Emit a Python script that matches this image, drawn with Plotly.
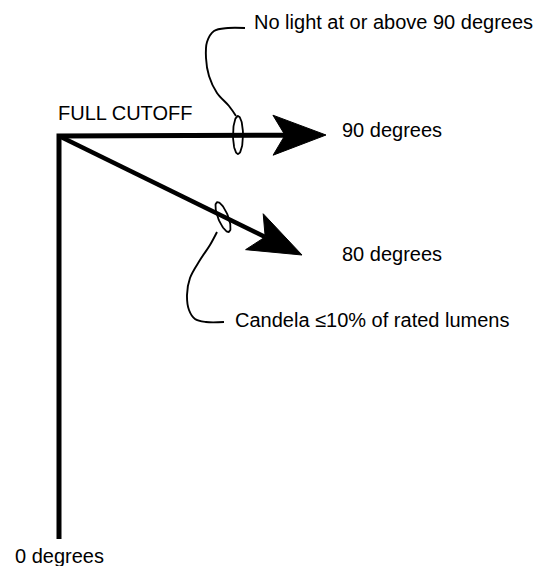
import numpy as np
import plotly.graph_objects as go

# ---- diagram content ----
ray_labels = ["90 degrees", "80 degrees"]
ray_angles = [90, 80]
base_label = "0 degrees"
title_label = "FULL CUTOFF"
callout_labels = ["No light at or above 90 degrees", "Candela \u226410% of rated lumens"]

# geometry (pixel-like diagram coordinates, y grows downward)
origin = (59, 136)
ray_tips = [(326, 135), (302, 255)]
base_end = (59, 539)
label_pos = [(340, 130), (340, 254)]
title_pos = (56, 113)
base_label_pos = (13, 556)
callout_pos = [(252, 22), (233, 320)]
ellipse_geo = [(238, 135, 5, 19, 0), (223, 217, 5, 16, 22)]
leader_pts = [
    [(245, 28), (228, 28), (214, 31), (207, 42), (206, 58), (209, 76), (217, 93), (229, 106), (236, 116)],
    [(217, 232), (210, 245), (200, 260), (190, 278), (187, 295), (189, 310), (195, 319), (206, 322), (224, 322)],
]

FONT = dict(family="Liberation Sans, Arial, Helvetica, sans-serif", size=20, color="black")

fig = go.Figure()

def arrow_parts(tip, org, length=53, half=20, notch=41):
    t = np.array(tip, float)
    o = np.array(org, float)
    u = (t - o) / np.linalg.norm(t - o)
    n = np.array([-u[1], u[0]])
    back = t - length * u
    c1 = back + half * n
    c2 = back - half * n
    nt = t - notch * u
    return nt, [t, c1, nt, c2, t]

# vertical base line + horizontal ray drawn as one polyline with a square corner
nt90, head90 = arrow_parts(ray_tips[0], origin)
fig.add_trace(go.Scatter(x=[base_end[0], origin[0], nt90[0]], y=[base_end[1], origin[1], nt90[1]],
                         mode="lines", line=dict(color="black", width=5), hoverinfo="skip", showlegend=False))
fig.add_trace(go.Scatter(x=[p[0] for p in head90], y=[p[1] for p in head90], fill="toself",
                         fillcolor="black", mode="lines", line=dict(color="black", width=1),
                         hoverinfo="skip", showlegend=False))

nt80, head80 = arrow_parts(ray_tips[1], origin)
fig.add_trace(go.Scatter(x=[origin[0], nt80[0]], y=[origin[1], nt80[1]],
                         mode="lines", line=dict(color="black", width=4.5), hoverinfo="skip", showlegend=False))
fig.add_trace(go.Scatter(x=[p[0] for p in head80], y=[p[1] for p in head80], fill="toself",
                         fillcolor="black", mode="lines", line=dict(color="black", width=1),
                         hoverinfo="skip", showlegend=False))

# ellipses (tilted so the top leans right)
th = np.linspace(0, 2 * np.pi, 80)
for cx, cy, rx, ry, ang in ellipse_geo:
    a = np.deg2rad(ang)
    ex = rx * np.cos(th)
    ey = ry * np.sin(th)
    xs = cx + ex * np.cos(a) + ey * np.sin(a)
    ys = cy + ey * np.cos(a) - ex * np.sin(a)
    fig.add_trace(go.Scatter(x=xs, y=ys, mode="lines", line=dict(color="black", width=1.8),
                             hoverinfo="skip", showlegend=False))

# leader curves
for pts in leader_pts:
    fig.add_trace(go.Scatter(x=[p[0] for p in pts], y=[p[1] for p in pts], mode="lines",
                             line=dict(color="black", width=1.9, shape="spline", smoothing=1.0),
                             hoverinfo="skip", showlegend=False))

# texts
texts = list(zip(ray_labels, label_pos)) + [(title_label, title_pos), (base_label, base_label_pos)] + \
    list(zip(callout_labels, callout_pos))
for t, (x, y) in texts:
    fig.add_annotation(x=x, y=y, text=t, showarrow=False, xanchor="left", yanchor="middle",
                       font=FONT, xref="x", yref="y")

fig.update_layout(
    width=535, height=566,
    margin=dict(l=0, r=0, t=0, b=0),
    paper_bgcolor="white", plot_bgcolor="white",
    xaxis=dict(range=[0, 535], visible=False, fixedrange=True),
    yaxis=dict(range=[566, 0], visible=False, fixedrange=True),
    showlegend=False,
)

fig.write_html("out.html", config={"displayModeBar": False},
               post_script="document.body.style.margin='0';")
